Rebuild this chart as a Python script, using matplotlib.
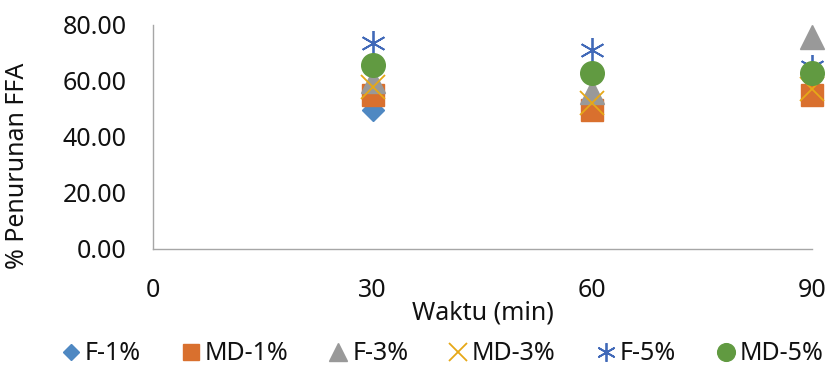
import matplotlib
matplotlib.use('Agg')
import matplotlib.pyplot as plt

plt.rcParams['font.family'] = ['Noto Sans', 'DejaVu Sans']

#------- data

waktu = [30, 60, 90]

f_1 = [49.6, 50.0, 55.0]
md_1 = [55.0, 49.6, 55.0]
f_3 = [60.0, 56.0, 75.7]
md_3 = [58.0, 52.0, 57.0]
f_5 = [73.6, 71.0, 65.0]
md_5 = [65.7, 62.9, 63.0]

series_names = ['F-1%', 'MD-1%', 'F-3%', 'MD-3%', 'F-5%', 'MD-5%']
y_ticks = [0, 20, 40, 60, 80]
x_ticks = [0, 30, 60, 90]

#------- plotting

fig = plt.figure(figsize=(8.29, 3.67), dpi=100)
ax = fig.add_axes([153/829, 1 - 249/367, (812 - 153)/829, (249 - 25)/367])

ax.plot(waktu, f_1, linestyle='none', marker='D', markersize=11, color='#4F88C2', label=series_names[0], clip_on=False)
ax.plot(waktu, md_1, linestyle='none', marker='s', markersize=16, color='#D9702E', label=series_names[1], clip_on=False)
ax.plot(waktu, f_3, linestyle='none', marker='^', markersize=17, color='#999999', label=series_names[2], clip_on=False)
ax.plot(waktu, md_3, linestyle='none', marker='x', markersize=17, markeredgewidth=1.3, color='#E6A817', label=series_names[3], clip_on=False)
ax.plot(waktu, f_5, linestyle='none', marker=(6, 2, 0), markersize=18, markeredgewidth=1.3, color='#4169B8', label=series_names[4], clip_on=False)
ax.plot(waktu, md_5, linestyle='none', marker='o', markersize=17, color='#619A41', label=series_names[5], clip_on=False)

ax.set_xlim(0, 90)
ax.set_ylim(0, 80)
ax.set_xticks(x_ticks)
ax.set_yticks(y_ticks)
ax.set_yticklabels(['%.2f' % v for v in y_ticks])
ax.tick_params(length=0, labelsize=18, colors='#111111')
ax.tick_params(axis='y', pad=19)
ax.tick_params(axis='x', pad=21)

for s in ['top', 'right']:
    ax.spines[s].set_visible(False)
for s in ['left', 'bottom']:
    ax.spines[s].set_color('#A6A6A6')
    ax.spines[s].set_linewidth(1.0)

for lbl in ax.get_xticklabels() + ax.get_yticklabels():
    lbl.set_clip_on(False)

ax.set_xlabel('Waktu (min)', fontsize=18, color='#111111')
ax.xaxis.set_label_coords(0.5, -0.23)
ax.set_ylabel('% Penurunan FFA', fontsize=18, color='#111111', va='center')
ax.yaxis.set_label_coords(-0.205, 0.37)

leg = fig.legend(loc='center', bbox_to_anchor=(0.532, 1 - 354/367), ncol=6, frameon=False,
                 fontsize=18, handletextpad=0.05, columnspacing=1.5, markerscale=0.75,
                 handlelength=1.0)
for t in leg.get_texts():
    t.set_color('#111111')

fig.savefig('out.png', dpi=100)
